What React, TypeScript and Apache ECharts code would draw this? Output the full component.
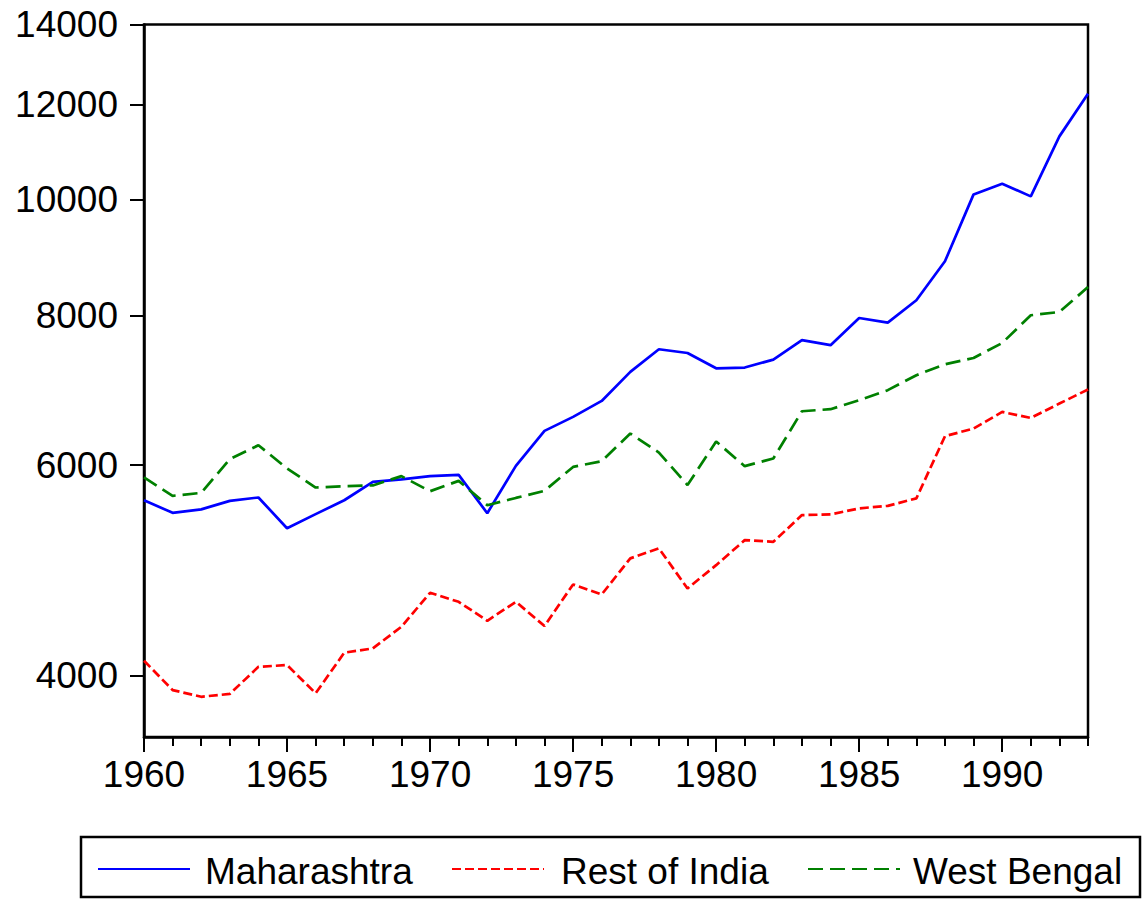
import React, { useEffect, useRef } from "react";
import * as echarts from "echarts";

const years = [
  1960, 1961, 1962, 1963, 1964, 1965, 1966, 1967, 1968, 1969, 1970, 1971,
  1972, 1973, 1974, 1975, 1976, 1977, 1978, 1979, 1980, 1981, 1982, 1983,
  1984, 1985, 1986, 1987, 1988, 1989, 1990, 1991, 1992, 1993,
];

const maharashtra = [
  5608, 5474, 5510, 5601, 5638, 5314, 5460, 5608, 5810, 5837, 5874, 5889,
  5470, 5991, 6408, 6583, 6788, 7178, 7497, 7444, 7228, 7238, 7350, 7629,
  7556, 7962, 7892, 8238, 8879, 10098, 10308, 10060, 11290, 12254,
];

const restOfIndia = [
  4119, 3893, 3843, 3864, 4071, 4085, 3869, 4183, 4218, 4397, 4694, 4613,
  4448, 4613, 4403, 4770, 4679, 5015, 5112, 4733, 4950, 5194, 5177, 5450,
  5457, 5521, 5548, 5628, 6343, 6438, 6646, 6570, 6754, 6939,
];

const westBengal = [
  5859, 5656, 5688, 6069, 6234, 5961, 5747, 5762, 5770, 5874, 5706, 5821,
  5555, 5633, 5711, 5979, 6046, 6376, 6147, 5774, 6279, 5988, 6077, 6655,
  6681, 6797, 6930, 7132, 7284, 7373, 7588, 8004, 8054, 8450,
];

const yTickValues = [4000, 6000, 8000, 10000, 12000, 14000];
const xLabelValues = [1960, 1965, 1970, 1975, 1980, 1985, 1990];

const seriesDefs = [
  { name: "Maharashtra", values: maharashtra, color: "#0000FF", dash: "solid" as any },
  { name: "Rest of India", values: restOfIndia, color: "#FF0000", dash: [9, 4] },
  { name: "West Bengal", values: westBengal, color: "#008000", dash: [15, 7] },
];

const FONT = "'Liberation Sans', Arial, sans-serif";

export default function App() {
  const ref = useRef<HTMLDivElement>(null);

  useEffect(() => {
    if (!ref.current) return;
    const chart = echarts.init(ref.current, undefined, { renderer: "svg" });

    const legendItems = [
      { lineX: 98, textX: 205 },
      { lineX: 452, textX: 561 },
      { lineX: 808, textX: 913 },
    ];
    const legendY = 869;

    const graphic: any[] = [
      {
        type: "rect",
        shape: { x: 81, y: 837, width: 1059, height: 60 },
        style: { fill: "none", stroke: "#000", lineWidth: 2.5 },
        z: 10,
      },
    ];
    seriesDefs.forEach((s, i) => {
      const li = legendItems[i];
      graphic.push({
        type: "line",
        shape: { x1: li.lineX, y1: legendY, x2: li.lineX + 92, y2: legendY },
        style: {
          stroke: s.color,
          lineWidth: 2,
          lineDash: s.dash === "solid" ? null : s.dash,
        },
        z: 10,
      });
      graphic.push({
        type: "text",
        x: li.textX,
        y: legendY + 2,
        style: {
          text: s.name,
          fill: "#000",
          font: `37px ${FONT}`,
          textVerticalAlign: "middle",
          textAlign: "left",
        },
        z: 10,
      });
    });

    const option: any = {
      animation: false,
      backgroundColor: "#fff",
      grid: {
        left: 144,
        right: 57,
        top: 24.5,
        bottom: 162,
        show: true,
        borderColor: "#000",
        borderWidth: 2.5,
        containLabel: false,
        outerBoundsMode: "none",
      },
      xAxis: [
        {
          type: "value",
          position: "bottom",
          min: 1960,
          max: 1993,
          axisLine: { show: true, lineStyle: { color: "#000", width: 2.5 } },
          axisTick: {
            show: true,
            length: 15,
            inside: false,
            lineStyle: { color: "#000", width: 2 },
            customValues: xLabelValues,
          },
          axisLabel: {
            show: true,
            color: "#000",
            fontSize: 37,
            fontFamily: FONT,
            margin: 19,
            customValues: xLabelValues,
            formatter: (v: number) => String(v),
          },
          splitLine: { show: false },
        },
        {
          type: "value",
          position: "bottom",
          min: 1960,
          max: 1993,
          axisLine: { show: false },
          axisTick: {
            show: true,
            length: 9,
            inside: false,
            lineStyle: { color: "#000", width: 2 },
            customValues: years,
          },
          axisLabel: { show: false },
          splitLine: { show: false },
        },
      ],
      yAxis: {
        type: "log",
        logBase: 10,
        min: 3557,
        max: 14000,
        axisLine: { show: true, lineStyle: { color: "#000", width: 2.5 } },
        axisTick: {
          show: true,
          length: 14,
          inside: false,
          lineStyle: { color: "#000", width: 2 },
          customValues: yTickValues,
        },
        axisLabel: {
          show: true,
          color: "#000",
          fontSize: 37,
          fontFamily: FONT,
          margin: 26,
          customValues: yTickValues,
          formatter: (v: number) => String(Math.round(v)),
        },
        splitLine: { show: false },
        minorTick: { show: false },
      },
      series: seriesDefs.map((s) => ({
        name: s.name,
        type: "line",
        xAxisIndex: 0,
        data: years.map((y, i) => [y, s.values[i]]),
        symbol: "none",
        lineStyle: { color: s.color, width: 2.7, type: s.dash },
        itemStyle: { color: s.color },
        silent: true,
      })),
      graphic,
    };

    chart.setOption(option);
    return () => chart.dispose();
  }, []);

  return (
    <div
      ref={ref}
      style={{ position: "fixed", left: 0, top: 0, width: 1145, height: 899 }}
    />
  );
}
